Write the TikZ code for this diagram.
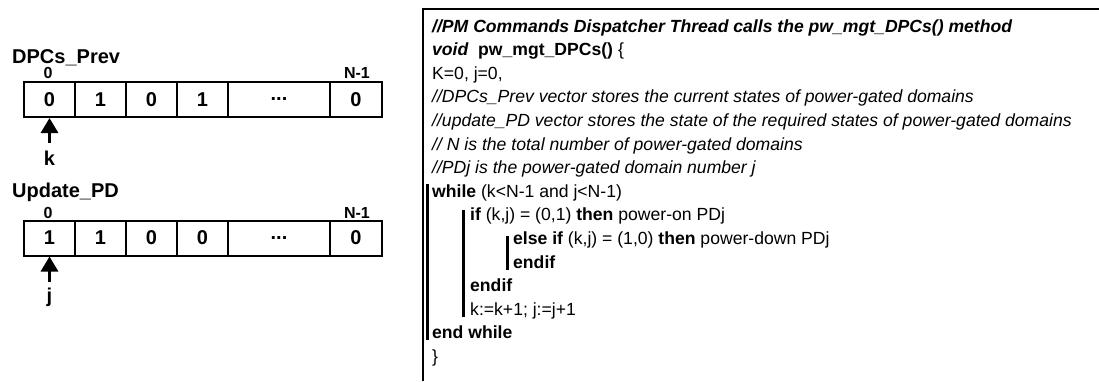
\documentclass[tikz,border=0pt]{standalone}
\usepackage{fontspec}
\setmainfont{Liberation Sans}
\usetikzlibrary{arrows.meta}
\begin{document}
\begin{tikzpicture}[x=1pt,y=-1pt,
  code/.style={anchor=base west,inner sep=0pt,font=\fontsize{17.6}{20}\selectfont},
  cell/.style={draw,line width=2pt,minimum height=35pt,inner sep=0pt,font=\bfseries\fontsize{20}{22}\selectfont},
  vlabel/.style={anchor=base west,inner sep=0pt,font=\bfseries\fontsize{20}{22}\selectfont},
  idx/.style={inner sep=0pt,font=\bfseries\fontsize{16}{18}\selectfont},
  ptrlabel/.style={inner sep=0pt,font=\bfseries\fontsize{20}{22}\selectfont},
  ptr/.style={line width=3pt,-{Triangle[width=17pt,length=15pt]}},
  bar/.style={line width=3pt},
  frame/.style={line width=2pt}]
\useasboundingbox (0,0) rectangle (1099,381);
% ---------- left panel ----------
\node[vlabel] (prevlab) at (12,63) {DPCs\_Prev};
\node[idx] (p0) at (48,73) {0};
\node[idx] (pn) at (357,73) {N-1};
\node[cell,minimum width=51pt] (a1) at (49.5,99.5) {0};
\node[cell,minimum width=51pt] (a2) at (100.5,99.5) {1};
\node[cell,minimum width=51pt] (a3) at (151.5,99.5) {0};
\node[cell,minimum width=51pt] (a4) at (202.5,99.5) {1};
\node[cell,minimum width=102pt] (a5) at (279,99.5) {...};
\node[cell,minimum width=52pt] (a6) at (356,99.5) {0};
\node[ptrlabel] (k) at (49.5,158) {k};
\coordinate (kb) at (49.5,143);
\draw[ptr] (kb) -- (a1.south);

\node[vlabel] (updlab) at (12,197) {Update\_PD};
\node[idx] (u0) at (48,213) {0};
\node[idx] (un) at (357,213) {N-1};
\node[cell,minimum width=51pt] (b1) at (49.5,238) {1};
\node[cell,minimum width=51pt] (b2) at (100.5,238) {1};
\node[cell,minimum width=51pt] (b3) at (151.5,238) {0};
\node[cell,minimum width=51pt] (b4) at (202.5,238) {0};
\node[cell,minimum width=102pt] (b5) at (279,238) {...};
\node[cell,minimum width=52pt] (b6) at (356,238) {0};
\node[ptrlabel] (j) at (49.5,297) {j};
\coordinate (jb) at (49.5,282);
\draw[ptr] (jb) -- (b1.south);

% ---------- right panel ----------
\coordinate (fr0) at (423,8.5);
\coordinate (fr1) at (1099,8.5);
\coordinate (fr2) at (423,381);
\draw[frame] (fr1) -- (fr0) -- (fr2);

\node[code] (L0) at (432,32) {\bfseries\itshape //PM Commands Dispatcher Thread calls the pw\_mgt\_DPCs() method};
\node[code] (L1) at (432,55.6) {{\bfseries\itshape void}\ \ {\bfseries pw\_mgt\_DPCs()} \{};
\node[code] (L2) at (432,79.2) {K=0, j=0,};
\node[code] (L3) at (432,102.8) {\itshape //DPCs\_Prev vector stores the current states of power-gated domains};
\node[code] (L4) at (432,126.4) {\itshape //update\_PD vector stores the state of the required states of power-gated domains};
\node[code] (L5) at (432,150) {\itshape // N is the total number of power-gated domains};
\node[code] (L6) at (432,173.6) {\itshape //PDj is the power-gated domain number j};
\node[code] (L7) at (432,197.2) {{\bfseries while} (k<N-1 and j<N-1)};
\node[code] (L8) at (470,220.8) {{\bfseries if} (k,j) = (0,1) {\bfseries then} power-on PDj};
\node[code] (L9) at (513,244.4) {{\bfseries else if} (k,j) = (1,0) {\bfseries then} power-down PDj};
\node[code] (L10) at (513,268) {\bfseries endif};
\node[code] (L11) at (470,291.6) {\bfseries endif};
\node[code] (L12) at (470,315.2) {k:=k+1; j:=j+1};
\node[code] (L13) at (432,338.8) {\bfseries end while};
\node[code] (L14) at (432,362.4) {\}};

\draw[bar] (427,184) -- (427,340);
\draw[bar] (463,210) -- (463,317);
\draw[bar] (507,236) -- (507,270);
\end{tikzpicture}
\end{document}
